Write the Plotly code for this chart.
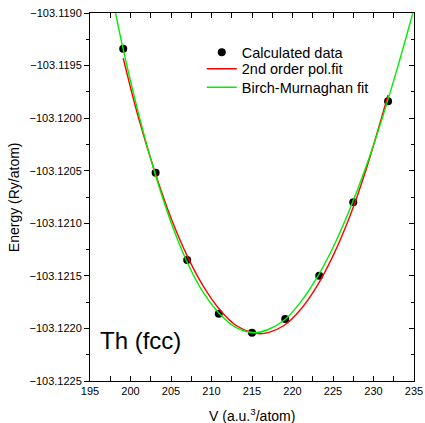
import plotly.graph_objects as go

# Calculated data
volume = [199.1, 203.1, 207.0, 210.9, 215.0, 219.1, 223.3, 227.5, 231.8]
energy = [-103.11934, -103.12052, -103.12135, -103.12186, -103.12204,
          -103.12191, -103.12150, -103.12080, -103.11984]

# 2nd order polynomial fit
poly_v = [199.1, 201.0, 203.0, 205.0, 207.0, 209.0, 211.0, 213.0, 215.0, 216.0,
          217.0, 219.0, 221.0, 223.0, 225.0, 227.0, 229.0, 231.8]
poly_e = [-103.11943, -103.12000, -103.12051, -103.12095, -103.12131, -103.12160,
          -103.12182, -103.12197, -103.12204, -103.12205, -103.12204, -103.12197,
          -103.12182, -103.12160, -103.12131, -103.12095, -103.12051, -103.11978]

# Birch-Murnaghan fit
bm_v = [198.16, 199.0, 201.0, 203.0, 205.0, 207.0, 209.0, 211.0, 213.0, 215.3,
        217.0, 219.0, 221.0, 223.0, 225.0, 227.0, 229.0, 231.0, 233.0, 234.86]
bm_e = [-103.11900, -103.11931, -103.11996, -103.12052, -103.12099, -103.12137,
        -103.12166, -103.12186, -103.12199, -103.12204, -103.12201, -103.12192,
        -103.12175, -103.12152, -103.12123, -103.12088, -103.12048, -103.12002,
        -103.11951, -103.11900]

x_range = [195, 235]
y_range = [-103.1225, -103.1190]

font_family = "Liberation Sans, Arial, sans-serif"

fig = go.Figure()
fig.add_trace(go.Scatter(x=volume, y=energy, mode="markers", name="Calculated data",
                         marker=dict(color="black", size=8), legend="legend"))
fig.add_trace(go.Scatter(x=poly_v, y=poly_e, mode="lines", name="2nd order pol.fit",
                         line=dict(color="#ff0000", width=1.4, shape="spline", smoothing=1),
                         legend="legend2"))
fig.add_trace(go.Scatter(x=bm_v, y=bm_e, mode="lines", name="Birch-Murnaghan fit",
                         line=dict(color="#00ee00", width=1.4, shape="spline", smoothing=1),
                         legend="legend3"))
# invisible trace to anchor the right-hand axis
fig.add_trace(go.Scatter(x=volume, y=energy, yaxis="y2", mode="markers",
                         marker=dict(opacity=0), showlegend=False, hoverinfo="skip"))


def legend_box(ypos):
    return dict(x=0.345, y=ypos, xanchor="left", yanchor="middle",
                bgcolor="rgba(0,0,0,0)", font=dict(size=14.5), itemwidth=30)


fig.update_layout(
    width=425, height=423,
    margin=dict(l=90, r=11, t=13, b=42),
    paper_bgcolor="white", plot_bgcolor="white",
    font=dict(family=font_family, size=11, color="black"),
    showlegend=True,
    legend=legend_box(0.893),
    legend2=legend_box(0.8485),
    legend3=legend_box(0.798),
    xaxis=dict(range=x_range, dtick=5, tick0=195, ticks="inside", ticklen=5,
               showline=True, linecolor="black", linewidth=1, mirror="allticks",
               showgrid=False, zeroline=False, tickcolor="black", automargin=False,
               ticklabeloverflow="allow",
               minor=dict(dtick=2.5, ticks="inside", ticklen=3, tickcolor="black", showgrid=False),
               title=dict(text="")),
    yaxis=dict(range=y_range, dtick=0.0005, tick0=-103.1225, tickformat=".4f",
               ticks="outside", ticklen=5, showline=True, linecolor="black", linewidth=1,
               showgrid=False, zeroline=False, tickcolor="black", automargin=False,
               ticklabeloverflow="allow",
               minor=dict(dtick=0.00025, ticks="outside", ticklen=3, tickcolor="black", showgrid=False),
               title=dict(text="")),
    yaxis2=dict(range=y_range, overlaying="y", side="right", dtick=0.0005, tick0=-103.1225,
                ticks="inside", ticklen=5, showticklabels=False, showline=True,
                linecolor="black", linewidth=1, showgrid=False, zeroline=False, tickcolor="black",
                automargin=False,
                minor=dict(dtick=0.00025, ticks="inside", ticklen=3, tickcolor="black", showgrid=False)),
)

# axis titles
fig.add_annotation(text="Energy (Ry/atom)", xref="paper", yref="paper", x=-0.234, y=0.5,
                   xanchor="center", yanchor="middle", textangle=-90, showarrow=False,
                   font=dict(size=14, family=font_family, color="black"))
fig.add_annotation(text="V (a.u.<sup>3</sup>/atom)", xref="paper", yref="paper", x=0.5, y=-0.092,
                   xanchor="center", yanchor="middle", showarrow=False,
                   font=dict(size=14, family=font_family, color="black"))

fig.add_annotation(text="Th (fcc)", xref="paper", yref="paper", x=0.025, y=0.11,
                   xanchor="left", yanchor="middle", showarrow=False,
                   font=dict(size=24, family=font_family, color="black"))

# remove the default page margin so the 425x423 figure fills the window exactly
fig.write_html("out.html", config={"displayModeBar": False},
               post_script="document.body.style.margin='0';document.body.style.overflow='hidden';")
